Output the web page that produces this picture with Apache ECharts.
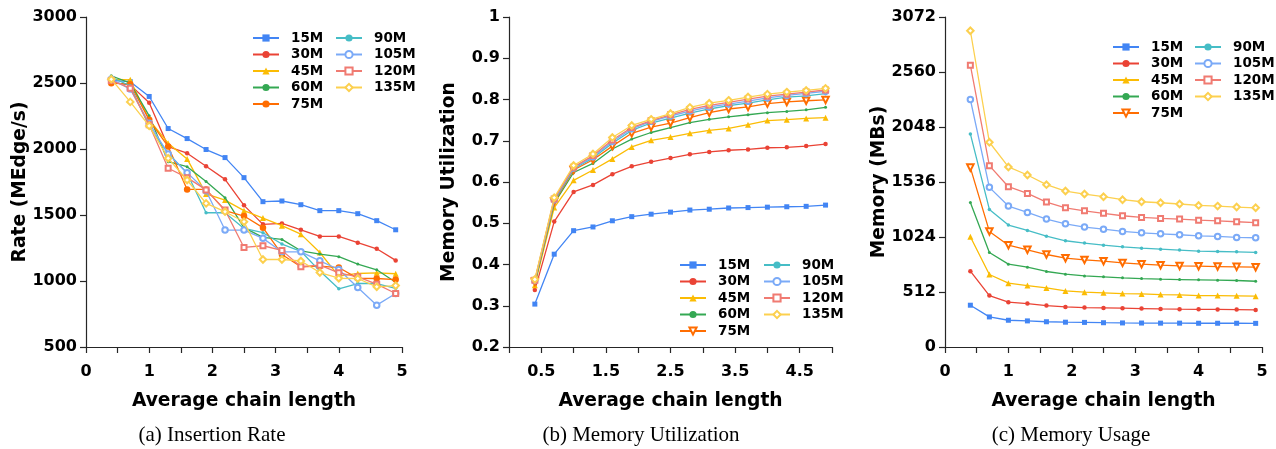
<!DOCTYPE html>
<html>
<head>
<meta charset="utf-8">
<script src="https://cdn.jsdelivr.net/npm/echarts@6/dist/echarts.min.js"></script>
<style>
  html, body { margin: 0; padding: 0; background: #fff; }
  #wrap { position: relative; width: 1276px; height: 449px; }
  .panel { position: absolute; top: 0; height: 449px; }
</style>
</head>
<body>
<div id="wrap">
  <div id="chartA" class="panel" style="left:0;width:425px"></div>
  <div id="chartB" class="panel" style="left:425px;width:425px"></div>
  <div id="chartC" class="panel" style="left:850px;width:426px"></div>
</div>
<script>
// x positions shared by every panel
const chainLengths = [0.4, 0.7, 1.0, 1.3, 1.6, 1.9, 2.2, 2.5, 2.8, 3.1, 3.4, 3.7, 4.0, 4.3, 4.6, 4.9];
const sizeNames = ['15M', '30M', '45M', '60M', '75M', '90M', '105M', '120M', '135M'];
const colors = ['#4285F4', '#EA4335', '#FBBC04', '#34A853', '#FF6D01', '#46BDC6', '#7BAAF7', '#F07B72', '#FCD04F'];

// (a) insertion rate, MEdge/s
const rate15M  = [2520, 2510, 2398, 2155, 2079, 1996, 1935, 1783, 1601, 1606, 1578, 1533, 1533, 1510, 1457, 1388];
const rate30M  = [2504, 2486, 2350, 2018, 1968, 1869, 1770, 1573, 1429, 1436, 1388, 1338, 1338, 1290, 1244, 1156];
const rate45M  = [2529, 2524, 2220, 2044, 1925, 1660, 1613, 1533, 1477, 1419, 1355, 1216, 1037, 1057, 1062, 1055];
const rate60M  = [2555, 2499, 2251, 1904, 1866, 1753, 1631, 1404, 1330, 1315, 1229, 1204, 1184, 1128, 1085, 990];
const rate75M  = [2499, 2491, 2221, 2018, 1694, 1694, 1533, 1492, 1404, 1201, 1108, 1112, 1102, 1020, 1019, 1011];
const rate90M  = [2542, 2479, 2170, 1968, 1816, 1517, 1517, 1398, 1366, 1280, 1225, 1075, 941, 981, 981, 945];
const rate105M = [2529, 2454, 2195, 1963, 1821, 1684, 1386, 1386, 1323, 1221, 1221, 1153, 1087, 951, 817, 905];
const rate120M = [2519, 2461, 2183, 1854, 1783, 1690, 1538, 1254, 1267, 1232, 1108, 1120, 1062, 1032, 976, 905];
const rate135M = [2529, 2357, 2175, 1930, 1765, 1588, 1525, 1449, 1163, 1163, 1152, 1064, 1021, 1019, 956, 965];

// (b) memory utilization
const util15M  = [0.304, 0.425, 0.482, 0.491, 0.506, 0.516, 0.522, 0.527, 0.532, 0.534, 0.537, 0.538, 0.539, 0.540, 0.541, 0.544];
const util30M  = [0.338, 0.504, 0.576, 0.593, 0.619, 0.638, 0.649, 0.658, 0.667, 0.673, 0.677, 0.679, 0.683, 0.684, 0.687, 0.692];
const util45M  = [0.350, 0.538, 0.604, 0.629, 0.656, 0.685, 0.701, 0.709, 0.718, 0.725, 0.730, 0.739, 0.749, 0.751, 0.754, 0.756];
const util60M  = [0.355, 0.548, 0.623, 0.645, 0.680, 0.704, 0.720, 0.732, 0.744, 0.752, 0.758, 0.763, 0.768, 0.771, 0.775, 0.781];
const util75M  = [0.358, 0.552, 0.629, 0.654, 0.687, 0.718, 0.733, 0.743, 0.756, 0.768, 0.777, 0.782, 0.790, 0.794, 0.797, 0.799];
const util90M  = [0.359, 0.555, 0.632, 0.658, 0.694, 0.725, 0.743, 0.755, 0.767, 0.777, 0.785, 0.791, 0.799, 0.806, 0.809, 0.814];
const util105M = [0.361, 0.557, 0.634, 0.661, 0.698, 0.729, 0.747, 0.760, 0.772, 0.782, 0.789, 0.796, 0.804, 0.810, 0.815, 0.820];
const util120M = [0.362, 0.559, 0.636, 0.664, 0.702, 0.732, 0.749, 0.763, 0.776, 0.786, 0.793, 0.801, 0.808, 0.813, 0.818, 0.823];
const util135M = [0.364, 0.562, 0.640, 0.668, 0.708, 0.737, 0.752, 0.766, 0.781, 0.791, 0.798, 0.806, 0.813, 0.818, 0.822, 0.827];

// (c) memory usage, MBs
const mem15M  = [389, 280, 249, 243, 235, 231, 229, 226, 224, 223, 222, 222, 221, 221, 221, 220];
const mem30M  = [706, 479, 417, 404, 386, 373, 367, 364, 361, 358, 354, 352, 351, 350, 348, 345];
const mem45M  = [1026, 675, 594, 572, 550, 522, 510, 504, 497, 494, 488, 485, 479, 479, 476, 473];
const mem60M  = [1346, 880, 771, 743, 703, 678, 662, 653, 644, 637, 631, 628, 625, 622, 619, 612];
const mem75M  = [1670, 1076, 948, 905, 861, 827, 811, 799, 783, 771, 762, 755, 752, 749, 746, 743];
const mem90M  = [1984, 1281, 1135, 1085, 1032, 989, 967, 948, 933, 920, 911, 902, 892, 889, 886, 880];
const mem105M = [2304, 1486, 1312, 1253, 1191, 1147, 1116, 1097, 1076, 1063, 1054, 1045, 1035, 1029, 1020, 1017];
const mem120M = [2624, 1688, 1492, 1430, 1349, 1296, 1268, 1244, 1222, 1206, 1197, 1191, 1181, 1175, 1166, 1157];
const mem135M = [2944, 1906, 1676, 1601, 1511, 1452, 1424, 1399, 1371, 1352, 1343, 1331, 1318, 1312, 1303, 1296];

const rateSeries = [rate15M, rate30M, rate45M, rate60M, rate75M, rate90M, rate105M, rate120M, rate135M];
const utilSeries = [util15M, util30M, util45M, util60M, util75M, util90M, util105M, util120M, util135M];
const memSeries  = [mem15M, mem30M, mem45M, mem60M, mem75M, mem90M, mem105M, mem120M, mem135M];

// marker shapes; panel (a) draws 75M as a big dot, (b) and (c) as a hollow down-triangle
const symbolsA = ['rect', 'circle', 'triangle', 'circle', 'circle', 'circle', 'emptyCircle', 'emptyRect', 'emptyDiamond'];
const symbolsBC = ['rect', 'circle', 'triangle', 'circle', 'emptyTriangle', 'circle', 'emptyCircle', 'emptyRect', 'emptyDiamond'];
const symSizesA = [5, 4.5, 6, 3, 6.5, 3.5, 5.5, 5, 6.5];
const symSizesBC = [5, 4.5, 6, 3, 6.5, 3.5, 5.5, 5, 6.5];

const FONT = 'DejaVu Sans';
const AXIS_COLOR = '#262626';

function xAxisCfg(labelFn) {
  return {
    type: 'value', min: 0, max: 5, interval: 0.5,
    name: 'Average chain length', nameLocation: 'middle', nameGap: 45, nameMoveOverlap: false,
    nameTextStyle: { fontFamily: FONT, fontWeight: 'bold', fontSize: 18.7, color: '#000' },
    axisLine: { lineStyle: { color: AXIS_COLOR, width: 1.2 } },
    axisTick: { length: 6, lineStyle: { color: AXIS_COLOR, width: 1.2 } },
    axisLabel: { formatter: labelFn, margin: 17, fontFamily: FONT, fontWeight: 'bold', fontSize: 16, color: '#000' },
    splitLine: { show: false },
  };
}

function yAxisCfg(name, min, max, interval, nameGap, labelFn) {
  return {
    type: 'value', min: min, max: max, interval: interval,
    name: name, nameLocation: 'middle', nameGap: nameGap, nameMoveOverlap: false,
    nameTextStyle: { fontFamily: FONT, fontWeight: 'bold', fontSize: 18.7, color: '#000' },
    axisLine: { show: true, lineStyle: { color: AXIS_COLOR, width: 1.2 } },
    axisTick: { show: true, length: 6, lineStyle: { color: AXIS_COLOR, width: 1.2 } },
    axisLabel: { formatter: labelFn, margin: 9, fontFamily: FONT, fontWeight: 'bold', fontSize: 16, color: '#000' },
    splitLine: { show: false },
  };
}

function legendCfg(names, left, top) {
  return {
    data: names, orient: 'vertical', left: left, top: top,
    itemWidth: 26, itemHeight: 9, itemGap: 0.5, selectedMode: false,
    textStyle: { fontFamily: FONT, fontWeight: 'bold', fontSize: 13.5, color: '#000', lineHeight: 16, padding: [0, 0, 0, 7] },
  };
}

function buildSeries(valueLists, symbols, symSizes) {
  return valueLists.map((vals, i) => ({
    name: sizeNames[i], type: 'line',
    data: chainLengths.map((x, j) => [x, vals[j]]),
    symbol: symbols[i], symbolSize: symSizes[i],
    symbolRotate: symbols[i] === 'emptyTriangle' ? 180 : 0,
    showSymbol: true, showAllSymbol: true,
    lineStyle: { width: 1.3, color: colors[i] },
    itemStyle: { color: colors[i], borderWidth: symbols[i].indexOf('empty') === 0 ? 1 : 0 },
    emphasis: { disabled: true },
    z: 2 + i,
  }));
}

function mkPanel(id, cfg) {
  const c = echarts.init(document.getElementById(id), null, { renderer: 'canvas' });
  c.setOption({
    animation: false,
    backgroundColor: '#fff',
    grid: cfg.grid,
    xAxis: xAxisCfg(cfg.xLabel),
    yAxis: yAxisCfg(cfg.yName, cfg.yMin, cfg.yMax, cfg.yInterval, cfg.yNameGap, cfg.yLabel),
    legend: [legendCfg(sizeNames.slice(0, 5), cfg.leg[0], cfg.leg[2]), legendCfg(sizeNames.slice(5), cfg.leg[1], cfg.leg[2])],
    series: buildSeries(cfg.values, cfg.symbols, cfg.symSizes),
    graphic: [{
      type: 'text', x: cfg.capX, y: 435,
      style: { text: cfg.caption, font: '21px "Liberation Serif"', fill: '#000', textAlign: 'center', textVerticalAlign: 'middle' },
    }],
  });
  return c;
}

const intLabel = v => (Math.abs(v - Math.round(v)) < 1e-6 ? String(Math.round(v)) : '');
const halfLabel = v => (Math.abs(v - Math.round(v)) > 0.25 ? v.toFixed(1) : '');
const plainLabel = v => String(v);

mkPanel('chartA', {
  grid: { left: 86, right: 23, top: 17, bottom: 102 },
  xLabel: intLabel, yLabel: plainLabel, yName: 'Rate (MEdge/s)', yMin: 500, yMax: 3000, yInterval: 500, yNameGap: 56,
  leg: [247, 330, 25], values: rateSeries, symbols: symbolsA, symSizes: symSizesA,
  caption: '(a) Insertion Rate', capX: 212,
});
mkPanel('chartB', {
  grid: { left: 84, right: 18, top: 17, bottom: 102 },
  xLabel: halfLabel, yLabel: plainLabel, yName: 'Memory Utilization', yMin: 0.2, yMax: 1, yInterval: 0.1, yNameGap: 50,
  leg: [249, 333, 252], values: utilSeries, symbols: symbolsBC, symSizes: symSizesBC,
  caption: '(b) Memory Utilization', capX: 216,
});
mkPanel('chartC', {
  grid: { left: 95, right: 14, top: 17, bottom: 102 },
  xLabel: intLabel, yLabel: plainLabel, yName: 'Memory (MBs)', yMin: 0, yMax: 3072, yInterval: 512, yNameGap: 56,
  leg: [257, 339, 34], values: memSeries, symbols: symbolsBC, symSizes: symSizesBC,
  caption: '(c) Memory Usage', capX: 221,
});
</script>
</body>
</html>
